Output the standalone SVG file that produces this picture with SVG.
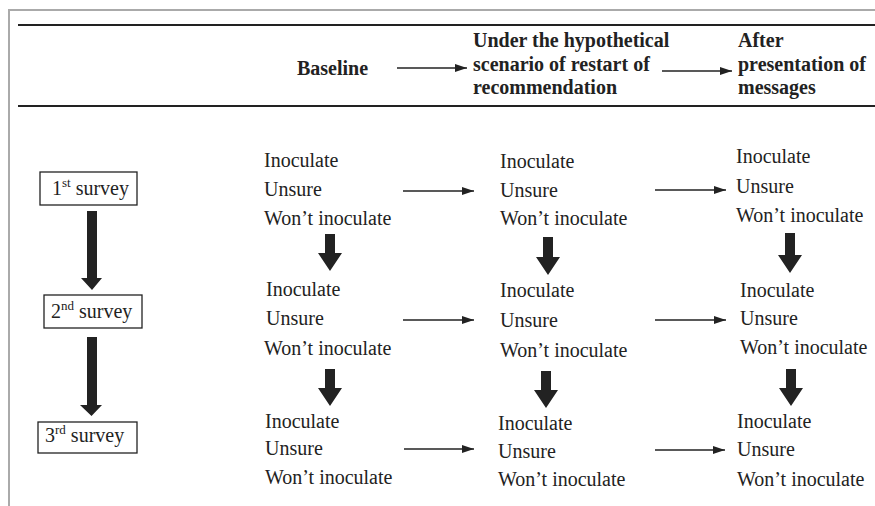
<svg xmlns="http://www.w3.org/2000/svg" width="875" height="506" viewBox="0 0 875 506">
<style>
.hd{font-family:"Liberation Serif","Times New Roman",serif;font-weight:bold;font-size:20px;fill:#222}
.tx{font-family:"Liberation Serif","Times New Roman",serif;font-size:20px;fill:#222}
.sup{font-size:13px}
.box{fill:#fff;stroke:#222;stroke-width:1.3}
.thin{stroke:#222;stroke-width:1.3;fill:none}
.blk{fill:#222}
.rule{stroke:#222;stroke-width:2}
.frame{stroke:#aaa;stroke-width:2;fill:none}
</style>
<defs>
<marker id="ah" viewBox="0 0 12 8" refX="12" refY="4" markerWidth="12" markerHeight="8" markerUnits="userSpaceOnUse" orient="auto">
<path d="M0,0 L12,4 L0,8 Z" fill="#222"/>
</marker>
</defs>
<rect width="875" height="506" fill="#fff"/>
<path class="frame" d="M9,506 V10 H875"/>
<line class="rule" x1="18" y1="25" x2="875" y2="25"/>
<line class="rule" x1="18" y1="106" x2="875" y2="106"/>

<g id="header">
<text class="hd" x="297" y="75">Baseline</text>
<text class="hd" x="473" y="47">Under the hypothetical</text>
<text class="hd" x="473" y="71">scenario of restart of</text>
<text class="hd" x="473" y="94">recommendation</text>
<text class="hd" x="738" y="47">After</text>
<text class="hd" x="738" y="71">presentation of</text>
<text class="hd" x="738" y="94">messages</text>
</g>

<g id="survey1"><rect class="box" x="40" y="172" width="97" height="33"/><text class="tx" x="52" y="195">1<tspan class="sup" dy="-8">st</tspan><tspan dy="8"> survey</tspan></text></g>
<g id="survey2"><rect class="box" x="44" y="295" width="98" height="33"/><text class="tx" x="51" y="317.5">2<tspan class="sup" dy="-8">nd</tspan><tspan dy="8"> survey</tspan></text></g>
<g id="survey3"><rect class="box" x="38" y="422" width="99" height="31"/><text class="tx" x="45" y="442">3<tspan class="sup" dy="-8">rd</tspan><tspan dy="8"> survey</tspan></text></g>

<g id="s1-baseline"><text class="tx" x="264" y="167">Inoculate</text><text class="tx" x="264" y="196">Unsure</text><text class="tx" x="264" y="225">Won’t inoculate</text></g>
<g id="s1-hypo"><text class="tx" x="500" y="168">Inoculate</text><text class="tx" x="500" y="197">Unsure</text><text class="tx" x="500" y="225">Won’t inoculate</text></g>
<g id="s1-after"><text class="tx" x="736" y="163">Inoculate</text><text class="tx" x="736" y="193">Unsure</text><text class="tx" x="736" y="222">Won’t inoculate</text></g>

<g id="s2-baseline"><text class="tx" x="266" y="296">Inoculate</text><text class="tx" x="266" y="325">Unsure</text><text class="tx" x="264" y="355">Won’t inoculate</text></g>
<g id="s2-hypo"><text class="tx" x="500" y="297">Inoculate</text><text class="tx" x="500" y="327">Unsure</text><text class="tx" x="500" y="357">Won’t inoculate</text></g>
<g id="s2-after"><text class="tx" x="740" y="297">Inoculate</text><text class="tx" x="740" y="325">Unsure</text><text class="tx" x="740" y="354">Won’t inoculate</text></g>

<g id="s3-baseline"><text class="tx" x="265" y="428">Inoculate</text><text class="tx" x="265" y="455">Unsure</text><text class="tx" x="265" y="484">Won’t inoculate</text></g>
<g id="s3-hypo"><text class="tx" x="498" y="430">Inoculate</text><text class="tx" x="498" y="458">Unsure</text><text class="tx" x="498" y="486">Won’t inoculate</text></g>
<g id="s3-after"><text class="tx" x="737" y="428">Inoculate</text><text class="tx" x="737" y="456">Unsure</text><text class="tx" x="737" y="486">Won’t inoculate</text></g>

<g id="connectors">
<line class="thin" x1="397" y1="68" x2="467" y2="68" marker-end="url(#ah)"/>
<line class="thin" x1="662" y1="71" x2="732" y2="71" marker-end="url(#ah)"/>
<line class="thin" x1="403" y1="191" x2="474" y2="191" marker-end="url(#ah)"/>
<line class="thin" x1="655" y1="190" x2="726" y2="190" marker-end="url(#ah)"/>
<line class="thin" x1="403" y1="320" x2="474" y2="320" marker-end="url(#ah)"/>
<line class="thin" x1="655" y1="320" x2="726" y2="320" marker-end="url(#ah)"/>
<line class="thin" x1="404" y1="449" x2="474" y2="449" marker-end="url(#ah)"/>
<line class="thin" x1="655" y1="450" x2="725" y2="450" marker-end="url(#ah)"/>
<polygon class="blk" points="87,211 97,211 97,278 102,278 92,290 81,278 87,278"/>
<polygon class="blk" points="87,337 97,337 97,405 102,405 91.5,416 80,405 87,405"/>
<polygon class="blk" points="325,234 335,234 335,253 342,253 330,271 318,253 325,253"/>
<polygon class="blk" points="543,237 553,237 553,257 560,257 548,275 536,257 543,257"/>
<polygon class="blk" points="785,233 795,233 795,255 802,255 790,273 778,255 785,255"/>
<polygon class="blk" points="325,369 335,369 335,388 342,388 330,406 318,388 325,388"/>
<polygon class="blk" points="541,371 551,371 551,390 558,390 546,408 534,390 541,390"/>
<polygon class="blk" points="786,369 796,369 796,388 803,388 791,406 779,388 786,388"/>
</g>
</svg>
